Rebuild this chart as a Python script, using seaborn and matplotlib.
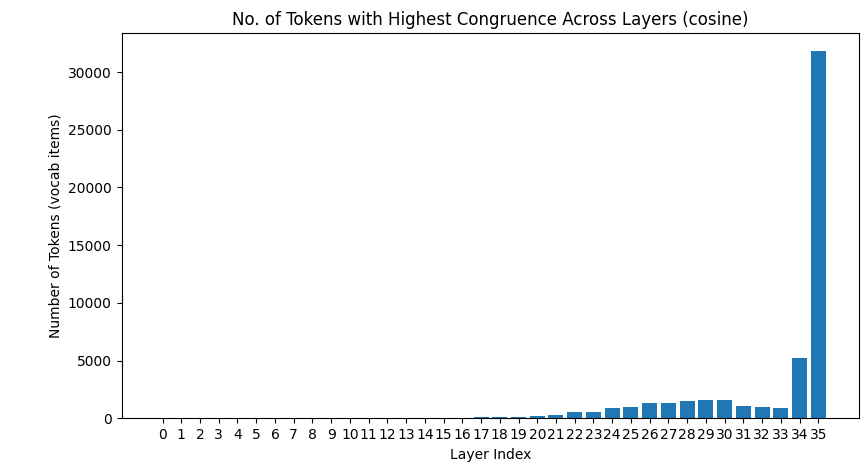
import matplotlib
matplotlib.use('Agg')
import matplotlib.pyplot as plt
import seaborn as sns

layers = list(range(36))
counts = [0] * 17 + [85, 85, 90, 170, 290, 520, 520, 860, 980, 1290, 1290,
                     1470, 1550, 1550, 1060, 980, 860, 5200, 31800]

fig, ax = plt.subplots(figsize=(8.68, 4.70), dpi=100)
ax.bar(layers, counts, color='#1f77b4')
ax.set_xticks(layers)
ax.set_title('No. of Tokens with Highest Congruence Across Layers (cosine)')
ax.set_xlabel('Layer Index')
ax.set_ylabel('Number of Tokens (vocab items)')
plt.subplots_adjust(left=0.14, right=0.99, top=0.93, bottom=0.11)
fig.savefig('out.png')
